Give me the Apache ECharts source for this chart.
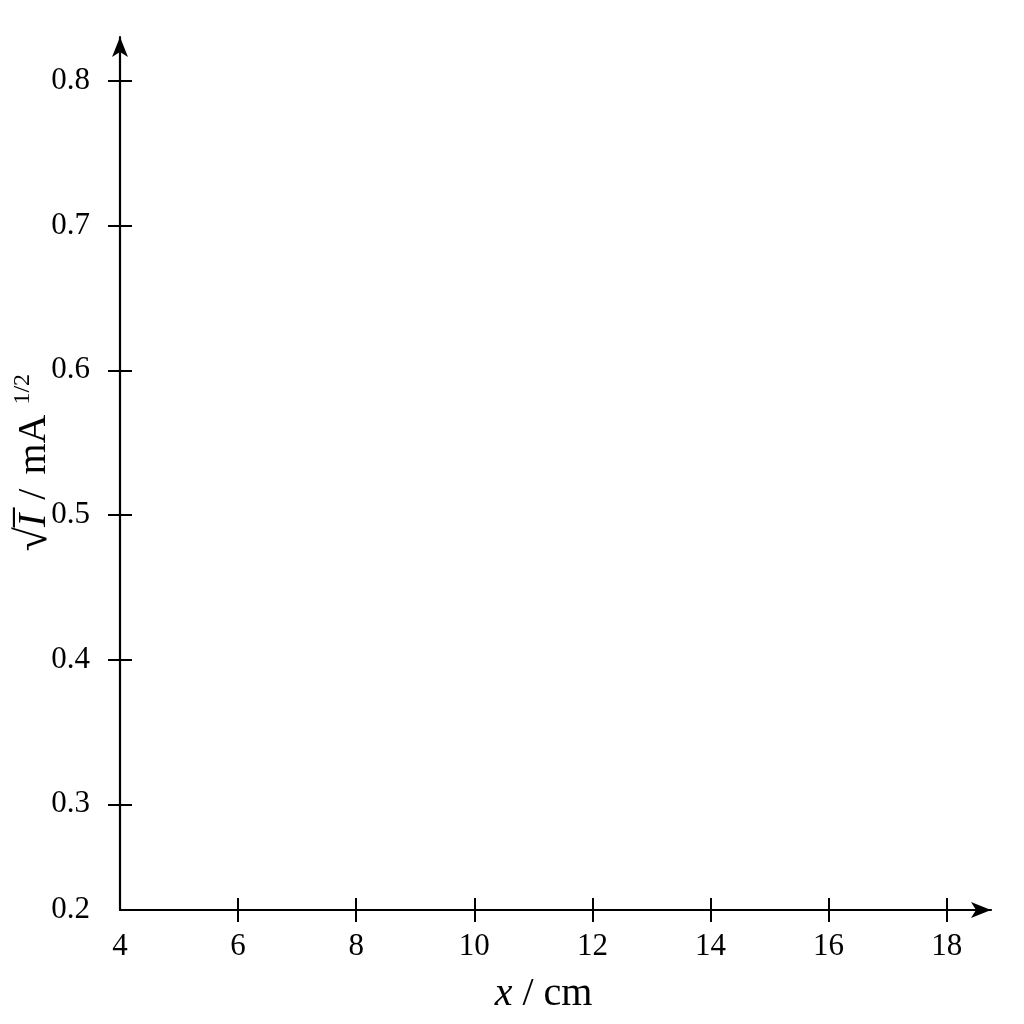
<!DOCTYPE html>
<html>
<head>
<meta charset="utf-8">
<script src="https://cdn.jsdelivr.net/npm/echarts@6/dist/echarts.min.js"></script>
<style>html,body{margin:0;padding:0;background:#fff;}#c{width:1024px;height:1024px;}</style>
</head>
<body>
<div id="c"></div>
<script>
// Axis ranges
const xMin = 4;
const xMax = 18.75;
const yMin = 0.2269;   // broken axis origin, labelled "0.2"
const yMax = 0.8304;

// Tick labels
const xTickLabels = ['4', '6', '8', '10', '12', '14', '16', '18'];
const xTickMarks = [6, 8, 10, 12, 14, 16, 18];
const yTickLabels = ['0.2', '0.3', '0.4', '0.5', '0.6', '0.7', '0.8'];
const yTickMarks = [0.3, 0.4, 0.5, 0.6, 0.7, 0.8];

// Series values (the chart is empty)
const seriesData = [];

const FONT = 'Liberation Serif';
const xLabelPos = xTickLabels.map(Number);
const yLabelPos = yTickLabels.map(s => Math.max(Number(s), yMin));

function yFmt(v) {
  for (let i = 0; i < yLabelPos.length; i++) {
    if (Math.abs(yLabelPos[i] - v) < 1e-6) return yTickLabels[i];
  }
  return '';
}
function xFmt(v) {
  for (let i = 0; i < xLabelPos.length; i++) {
    if (Math.abs(xLabelPos[i] - v) < 1e-6) return xTickLabels[i];
  }
  return '';
}

const chart = echarts.init(document.getElementById('c'));
chart.setOption({
  backgroundColor: '#ffffff',
  animation: false,
  grid: { left: 120, top: 37, right: 33, bottom: 114, containLabel: false, outerBoundsMode: 'none' },
  xAxis: [
    {
      type: 'value', min: xMin, max: xMax, position: 'bottom',
      splitLine: { show: false },
      axisLine: { show: true, symbol: ['none', 'arrow'], symbolSize: [12, 20],
        lineStyle: { color: '#000', width: 2.2 } },
      axisTick: { show: true, inside: false, length: 12, customValues: xTickMarks,
        lineStyle: { color: '#000', width: 2 } },
      axisLabel: { show: true, customValues: xLabelPos, formatter: xFmt, margin: 21,
        color: '#000', fontFamily: FONT, fontSize: 31 },
      name: '{i|x}{sl|/}cm',
      nameLocation: 'middle', nameGap: 64, nameMoveOverlap: false,
      nameTextStyle: { color: '#000', fontFamily: FONT, fontSize: 40, padding: [0, 24, 0, 0],
        rich: {
          i: { fontStyle: 'italic', fontFamily: FONT, fontSize: 40, color: '#000' },
          sl: { fontFamily: FONT, fontSize: 40, color: '#000', padding: [0, 10, 0, 10] }
        } }
    },
    {
      type: 'value', min: xMin, max: xMax, position: 'bottom',
      splitLine: { show: false },
      axisLine: { show: false },
      axisTick: { show: true, inside: true, length: 12, customValues: xTickMarks,
        lineStyle: { color: '#000', width: 2 } },
      axisLabel: { show: false }
    }
  ],
  yAxis: [
    {
      type: 'value', min: yMin, max: yMax, position: 'left',
      splitLine: { show: false },
      axisLine: { show: true, symbol: ['none', 'arrow'], symbolSize: [12, 20],
        lineStyle: { color: '#000', width: 2.2 } },
      axisTick: { show: true, inside: false, length: 12, customValues: yTickMarks,
        lineStyle: { color: '#000', width: 2 } },
      axisLabel: { show: true, customValues: yLabelPos, formatter: yFmt, margin: 30,
        color: '#000', fontFamily: FONT, fontSize: 31 },
      name: '{r|√}{i|I̅}{sl|/}mA{s|1/2}',
      nameLocation: 'middle', nameGap: 63, nameRotate: 90, nameMoveOverlap: false,
      nameTextStyle: { color: '#000', fontFamily: FONT, fontSize: 40, padding: [0, 0, 0, 22],
        rich: {
          r: { fontFamily: FONT, fontSize: 44, color: '#000' },
          i: { fontStyle: 'italic', fontFamily: FONT, fontSize: 40, color: '#000' },
          sl: { fontFamily: FONT, fontSize: 40, color: '#000', padding: [0, 14, 0, 14] },
          s: { fontFamily: FONT, fontSize: 24, color: '#000', padding: [0, 0, 22, 10] }
        } }
    },
    {
      type: 'value', min: yMin, max: yMax, position: 'left',
      splitLine: { show: false },
      axisLine: { show: false },
      axisTick: { show: true, inside: true, length: 12, customValues: yTickMarks,
        lineStyle: { color: '#000', width: 2 } },
      axisLabel: { show: false }
    }
  ],
  series: [
    { type: 'scatter', xAxisIndex: 0, yAxisIndex: 0, data: seriesData, symbolSize: 8,
      itemStyle: { color: '#000' } }
  ]
});
</script>
</body>
</html>
